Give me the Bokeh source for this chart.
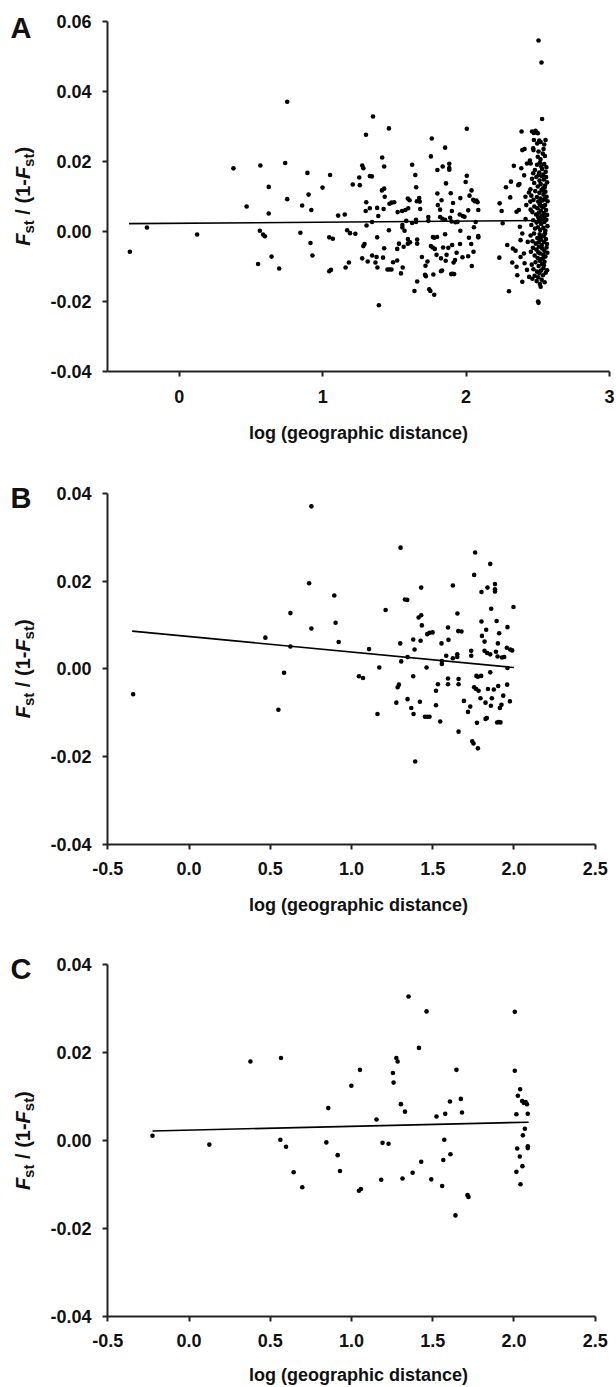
import math
from bokeh.plotting import figure
from bokeh.layouts import column, row
from bokeh.models import FixedTicker, PrintfTickFormatter, Label, Range1d
from bokeh.embed import file_html
from bokeh.resources import INLINE

# ---------------- data ----------------
B_x = [-0.344, 0.470, 0.624, 0.624, 0.585, 0.550, 0.739, 0.753, 0.753, 0.894, 0.902, 0.921,
       1.108, 1.046, 1.071, 1.171, 1.160, 1.210, 1.302, 1.329, 1.343, 1.300, 1.306, 1.292,
       1.284, 1.276, 1.345, 1.345, 1.368, 1.382, 1.380, 1.388, 1.380, 1.392, 1.421, 1.429,
       1.413, 1.429, 1.433, 1.425, 1.466, 1.480, 1.499, 1.462, 1.452, 1.466, 1.480, 1.546,
       1.520, 1.520, 1.532, 1.554, 1.556, 1.556, 1.583, 1.594, 1.597, 1.594, 1.594, 1.624,
       1.624, 1.652, 1.657, 1.677, 1.651, 1.651, 1.659, 1.659, 1.659, 1.692, 1.717, 1.731,
       1.737, 1.737, 1.743, 1.751, 1.778, 1.761, 1.755, 1.769, 1.778, 1.798, 1.755, 1.767,
       1.782, 1.772, 1.800, 1.794, 1.800, 1.803, 1.819, 1.829, 1.819, 1.835, 1.825, 1.825,
       1.833, 1.837, 1.840, 1.854, 1.854, 1.860, 1.854, 1.864, 1.858, 1.876, 1.883, 1.883,
       1.883, 1.893, 1.889, 1.899, 1.903, 1.896, 1.906, 1.917, 1.901, 1.909, 1.926, 1.940,
       1.923, 1.913, 1.934, 1.960, 1.958, 1.960, 1.956, 1.977, 1.989, 1.975, 1.997]
B_y = [-0.0058, 0.0071, 0.0127, 0.0051, -0.0009, -0.0093, 0.0195, 0.0370, 0.0092, 0.0167, 0.0105, 0.0061,
       0.0045, -0.0017, -0.0021, 0.0003, -0.0103, 0.0134, 0.0276, 0.0158, 0.0157, 0.0058, 0.0017, -0.0036,
       -0.0042, -0.0077, 0.0027, -0.0069, -0.0089, -0.0103, -0.0017, 0.0044, 0.0067, -0.0211, -0.0075, 0.0185,
       0.0117, 0.0122, 0.0099, 0.0064, 0.0079, 0.0082, 0.0083, 0.0003, -0.0109, -0.0109, -0.0109, -0.0120,
       -0.0083, -0.0050, -0.0035, 0.0058, 0.0018, 0.0011, 0.0030, 0.0094, 0.0066, -0.0022, -0.0035, 0.0190,
       0.0024, 0.0126, 0.0086, 0.0085, 0.0033, 0.0027, -0.0023, -0.0035, -0.0143, -0.0073, -0.0098, -0.0086,
       0.0041, 0.0030, -0.0165, -0.0170, -0.0181, 0.0265, 0.0214, -0.0016, -0.0018, -0.0016, -0.0042, -0.0046,
       -0.0050, -0.0123, 0.0175, -0.0067, 0.0108, 0.0075, 0.0062, 0.0089, 0.0041, 0.0036, -0.0077, -0.0114,
       -0.0112, 0.0185, -0.0046, 0.0239, -0.0008, 0.0137, 0.0033, -0.0067, -0.0084, -0.0047, 0.0193, 0.0181,
       0.0176, 0.0109, 0.0039, 0.0028, -0.0039, -0.0122, -0.0121, -0.0122, 0.0058, 0.0081, 0.0026, 0.0027,
       -0.0082, -0.0089, -0.0061, 0.0002, -0.0036, 0.0095, 0.0048, 0.0044, 0.0042, -0.0074, 0.0141]

C_x = [-0.225, 0.125, 0.378, 0.566, 0.562, 0.597, 0.644, 0.697, 0.857, 0.845, 0.915, 0.929,
       0.999, 1.052, 1.046, 1.058, 1.154, 1.191, 1.228, 1.183, 1.255, 1.259, 1.276, 1.284,
       1.304, 1.329, 1.314, 1.351, 1.376, 1.415, 1.429, 1.462, 1.491, 1.523, 1.558, 1.577,
       1.571, 1.565, 1.606, 1.609, 1.646, 1.640, 1.673, 1.680, 1.714, 1.720, 2.005, 2.005,
       2.038, 2.024, 2.050, 2.060, 2.072, 2.080, 2.015, 2.085, 2.067, 2.055, 2.020, 2.085,
       2.085, 2.036, 2.052, 2.015, 2.040]
C_y = [0.0011, -0.0009, 0.0180, 0.0188, 0.0002, -0.0014, -0.0072, -0.0106, 0.0074, -0.0004, -0.0033, -0.0069,
       0.0125, 0.0161, -0.0114, -0.0110, 0.0048, -0.0005, -0.0007, -0.0089, 0.0154, 0.0132, 0.0188, 0.0180,
       0.0083, 0.0066, -0.0086, 0.0328, -0.0073, 0.0211, -0.0048, 0.0294, -0.0088, 0.0055, -0.0103, 0.0061,
       0.0002, -0.0044, 0.0089, -0.0031, 0.0161, -0.0170, 0.0095, 0.0064, -0.0124, -0.0128, 0.0293, 0.0159,
       0.0117, 0.0102, 0.0090, 0.0086, 0.0088, 0.0083, 0.0060, 0.0061, 0.0027, 0.0012, -0.0018, -0.0013,
       -0.0017, -0.0036, -0.0058, -0.0071, -0.0099]

# extra pairs (between the two groups) visible only in panel A
AX_x = [2.234, 2.248, 2.232, 2.299, 2.255, 2.278, 2.313, 2.308, 2.333, 2.387, 2.364, 2.372,
        2.385, 2.392, 2.408, 2.352, 2.368, 2.326, 2.345, 2.322, 2.352, 2.357, 2.392, 2.380,
        2.392, 2.375, 2.380, 2.403, 2.408, 2.425, 2.445, 2.438, 2.449, 2.448, 2.405, 2.420,
        2.415, 2.430, 2.425, 2.440, 2.287, 2.414,
        2.460, 2.484, 2.500, 2.530, 2.473, 2.491,
        2.473, 2.496, 2.554, 2.510, 2.520, 2.545,
        2.470, 2.468, 2.500, 2.519, 2.535, 2.550, 2.540, 2.505,
        2.450, 2.524, 2.480, 2.495, 2.510, 2.530, 2.545, 2.555, 2.560, 2.515, 2.538, 2.468,
        2.460, 2.475, 2.490, 2.500, 2.512, 2.520, 2.528, 2.535, 2.542, 2.550, 2.558, 2.565, 2.505, 2.548,
        2.455, 2.470, 2.482, 2.494, 2.503, 2.511, 2.518, 2.526, 2.533, 2.540, 2.547, 2.553, 2.561, 2.568, 2.515, 2.538,
        2.450, 2.462, 2.476, 2.488, 2.498, 2.507, 2.514, 2.522, 2.530, 2.537, 2.544, 2.551, 2.558, 2.565, 2.502, 2.527, 2.548,
        2.455, 2.468, 2.480, 2.492, 2.501, 2.509, 2.517, 2.524, 2.532, 2.539, 2.546, 2.553, 2.560, 2.567, 2.512, 2.541,
        2.450, 2.463, 2.474, 2.486, 2.497, 2.505, 2.513, 2.521, 2.528, 2.536, 2.543, 2.550, 2.557, 2.564, 2.519, 2.545,
        2.452, 2.466, 2.478, 2.490, 2.499, 2.508, 2.516, 2.523, 2.531, 2.538, 2.546, 2.553, 2.561, 2.567, 2.504, 2.534,
        2.458, 2.470, 2.484, 2.495, 2.506, 2.514, 2.522, 2.530, 2.539, 2.547, 2.555, 2.565, 2.510, 2.542,
        2.462, 2.478, 2.492, 2.503, 2.515, 2.527, 2.536, 2.548, 2.520,
        2.505, 2.526, 2.502, 2.505]
AX_y = [0.0080, 0.0058, -0.0075, -0.0171, 0.0023, 0.0126, 0.0142, 0.0097, 0.0187, 0.0285, 0.0132, 0.0135,
        0.0180, 0.0232, 0.0235, 0.0056, 0.0061, -0.0049, -0.0055, -0.0089, -0.0101, -0.0125, -0.0144, -0.0025,
        -0.0006, 0.0013, -0.0073, -0.0063, -0.0091, 0.0194, 0.0202, 0.0111, 0.0120, 0.0085, 0.0160, 0.0075,
        0.0035, -0.0030, -0.0110, -0.0130, -0.0039, 0.0099,
        0.0285, 0.0287, 0.0280, 0.0321, 0.0281, 0.0283,
        0.0261, 0.0251, 0.0261, 0.0259, 0.0255, 0.0248,
        0.0232, 0.0237, 0.0213, 0.0206, 0.0222, 0.0215, 0.0235, 0.0228,
        0.0194, 0.0185, 0.0175, 0.0190, 0.0168, 0.0178, 0.0192, 0.0170, 0.0183, 0.0196, 0.0162, 0.0166,
        0.0150, 0.0138, 0.0155, 0.0128, 0.0145, 0.0135, 0.0158, 0.0122, 0.0148, 0.0131, 0.0155, 0.0140, 0.0160, 0.0125,
        0.0102, 0.0090, 0.0115, 0.0098, 0.0085, 0.0110, 0.0094, 0.0118, 0.0088, 0.0105, 0.0092, 0.0113, 0.0099, 0.0086, 0.0082, 0.0116,
        0.0062, 0.0055, 0.0071, 0.0048, 0.0066, 0.0053, 0.0077, 0.0059, 0.0045, 0.0069, 0.0052, 0.0075, 0.0061, 0.0047, 0.0041, 0.0072, 0.0043,
        0.0018, 0.0032, 0.0008, 0.0025, 0.0012, 0.0035, 0.0004, 0.0021, 0.0038, 0.0010, 0.0027, 0.0002, 0.0033, 0.0015, 0.0029, 0.0036,
        -0.0012, -0.0028, -0.0006, -0.0035, -0.0019, -0.0031, -0.0008, -0.0024, -0.0039, -0.0014, -0.0030, -0.0005, -0.0022, -0.0036, -0.0016, -0.0010,
        -0.0058, -0.0047, -0.0069, -0.0052, -0.0076, -0.0044, -0.0063, -0.0079, -0.0049, -0.0067, -0.0055, -0.0072, -0.0046, -0.0061, -0.0060, -0.0078,
        -0.0095, -0.0108, -0.0088, -0.0115, -0.0099, -0.0084, -0.0112, -0.0093, -0.0105, -0.0087, -0.0118, -0.0111, -0.0119, -0.0097,
        -0.0135, -0.0127, -0.0142, -0.0131, -0.0150, -0.0138, -0.0125, -0.0145, -0.0158,
        0.0545, 0.0482, -0.0200, -0.0204]

A_x = B_x + C_x + AX_x
A_y = B_y + C_y + AX_y

A_line_x = [-0.35, 2.56]
A_line_y = [0.0022, 0.0031]
B_line_x = [-0.35, 2.00]
B_line_y = [0.0086, 0.0003]
C_line_x = [-0.225, 2.09]
C_line_y = [0.0022, 0.0042]

A_xticks = [0, 1, 2, 3]
BC_xticks = [-0.5, 0.0, 0.5, 1.0, 1.5, 2.0, 2.5]
A_yticks = [-0.04, -0.02, 0.0, 0.02, 0.04, 0.06]
BC_yticks = [-0.04, -0.02, 0.0, 0.02, 0.04]
x_title = "log (geographic distance)"
panel_letters = ["A", "B", "C"]

FONT = "Liberation Sans"
INK = "#111111"
SIDE_W = 45          # width of the strip holding the panel letter and y title
MAIN_W = 616 - SIDE_W
AXIS_X = 107         # page x of the y axis
RIGHT_X = 609        # page x of the right edge of the plotting frame
TOP_PAD = 2


def make_panel(letter, xs, ys, lx, ly, xlim, ylim, xticks, yticks, xfmt,
               fig_top, height, y_top_px, y_bot_px, x_first_px, x_last_px,
               letter_mid_px, s1, s2):
    # pixel geometry -> ranges (axis bounds keep the drawn axes at the real limits)
    frame_h = int(y_bot_px) - fig_top - TOP_PAD
    b_bottom = int(height - TOP_PAD - frame_h)
    dpp = (ylim[1] - ylim[0]) / (y_bot_px - y_top_px)
    y_end = ylim[1] + (y_top_px - fig_top - TOP_PAD) * dpp
    xpp = (xlim[1] - xlim[0]) / (x_last_px - x_first_px)
    x_start = xlim[0] - (x_first_px - AXIS_X) * xpp
    x_end = xlim[1] + (RIGHT_X - x_last_px) * xpp
    yr = Range1d(ylim[0], y_end)

    p = figure(width=MAIN_W, height=height, x_range=Range1d(x_start, x_end), y_range=yr,
               output_backend="svg", toolbar_location=None,
               min_border_left=AXIS_X - SIDE_W, min_border_right=616 - RIGHT_X,
               min_border_top=TOP_PAD, min_border_bottom=b_bottom)
    p.outline_line_color = None
    p.grid.visible = False

    p.xaxis.ticker = FixedTicker(ticks=xticks)
    p.yaxis.ticker = FixedTicker(ticks=yticks)
    p.xaxis.formatter = PrintfTickFormatter(format=xfmt)
    p.yaxis.formatter = PrintfTickFormatter(format="%.2f")
    p.xaxis.bounds = (xlim[0], xlim[1])
    p.yaxis.bounds = (ylim[0], ylim[1])
    for ax in (p.xaxis[0], p.yaxis[0]):
        ax.axis_line_width = 2
        ax.axis_line_color = "#222222"
        ax.major_tick_line_width = 2
        ax.major_tick_line_color = "#222222"
        ax.major_tick_out = 5
        ax.major_tick_in = 0
        ax.minor_tick_line_color = None
        ax.major_label_text_font = FONT
        ax.major_label_text_font_style = "bold"
        ax.major_label_text_font_size = "18px"
        ax.major_label_text_color = INK
    p.xaxis.major_label_standoff = s1
    p.yaxis.major_label_standoff = 11
    p.xaxis.axis_label = x_title
    p.xaxis.axis_label_text_font = FONT
    p.xaxis.axis_label_text_font_style = "bold"
    p.xaxis.axis_label_text_font_size = "18px"
    p.xaxis.axis_label_text_color = INK
    p.xaxis.axis_label_standoff = s2

    p.scatter(xs, ys, size=4.6, color="#000000", line_width=0)
    p.line(lx, ly, line_color="#000000", line_width=1.6)

    # side strip: same vertical borders and shared y range, x in pixels
    s = figure(width=SIDE_W, height=height, x_range=Range1d(0, SIDE_W), y_range=yr,
               output_backend="svg", toolbar_location=None,
               x_axis_type=None, y_axis_type=None,
               min_border_left=0, min_border_right=0,
               min_border_top=TOP_PAD, min_border_bottom=b_bottom)
    s.outline_line_color = None
    s.grid.visible = False

    def page_to_y(py):
        return ylim[1] - (py - y_top_px) * dpp

    s.add_layout(Label(x=10, y=page_to_y(letter_mid_px), text=letter,
                       text_font=FONT, text_font_style="bold", text_font_size="29px",
                       text_color=INK, text_align="left", text_baseline="middle"))

    # rotated y title: F_st / (1-F_st), written bottom-to-top in pieces
    pieces = [("F", "20px", "bold italic", 22.5, 0.0),
              ("st", "15px", "bold", 27.5, 12.2),
              ("/", "20px", "bold", 22.5, 31.1),
              ("(1-", "20px", "bold", 22.5, 42.3),
              ("F", "20px", "bold italic", 22.5, 66.7),
              ("st", "15px", "bold", 27.5, 78.9),
              (")", "20px", "bold", 22.5, 92.2)]
    total = 98.9
    y_mid = (ylim[0] + ylim[1]) / 2
    for text, size, style, xc, off in pieces:
        s.add_layout(Label(x=xc, y=y_mid + (off - total / 2) * dpp,
                           text=text, angle=math.pi / 2,
                           text_font=FONT, text_font_size=size, text_font_style=style,
                           text_color=INK, text_align="left", text_baseline="middle"))
    return row(s, p)


rA = make_panel(panel_letters[0], A_x, A_y, A_line_x, A_line_y, (-0.5, 3.0), (-0.04, 0.06),
                A_xticks, A_yticks, "%d", 0, 465, 20.7, 371.0, 107.0, 609.0, 27.5, 13, 17)
rB = make_panel(panel_letters[1], B_x, B_y, B_line_x, B_line_y, (-0.5, 2.5), (-0.04, 0.04),
                BC_xticks, BC_yticks, "%.1f", 465, 470, 492.7, 844.0, 107.3, 594.7, 497.5, 12, 17)
rC = make_panel(panel_letters[2], C_x, C_y, C_line_x, C_line_y, (-0.5, 2.5), (-0.04, 0.04),
                BC_xticks, BC_yticks, "%.1f", 935, 452, 964.3, 1316.0, 107.3, 594.7, 968.5, 12, 15)

layout = column(rA, rB, rC)
open("out.html", "w").write(file_html(layout, INLINE))
